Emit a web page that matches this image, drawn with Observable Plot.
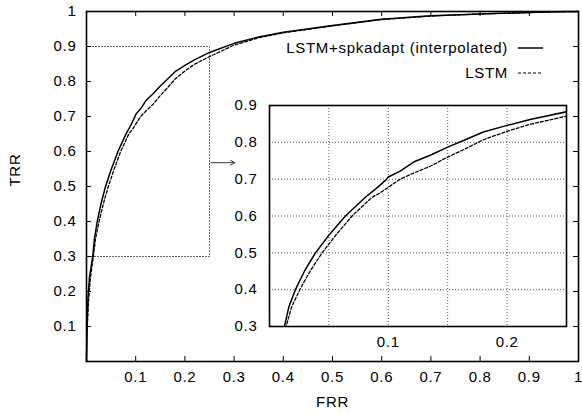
<!DOCTYPE html>
<html><head><meta charset="utf-8">
<script src="https://cdn.jsdelivr.net/npm/d3@7"></script>
<script src="https://cdn.jsdelivr.net/npm/@observablehq/plot@0.6"></script>
<style>
body{margin:0;background:#fff;}
#wrap{position:relative;width:582px;height:412px;overflow:hidden;}
#wrap svg{position:absolute;left:0;top:0;}
</style></head><body><div id="wrap"></div>
<script>
// ---- data ----
const seriesNames = ["LSTM+spkadapt (interpolated)", "LSTM"];
const solidFRR = [0, 0.001, 0.003, 0.006, 0.0126, 0.0162, 0.0218, 0.0297, 0.0387, 0.0498, 0.0639, 0.0807, 0.09, 0.098, 0.1, 0.110, 0.1213, 0.1353, 0.15, 0.1633, 0.18, 0.2, 0.2193, 0.25, 0.3, 0.35, 0.4, 0.5, 0.6, 0.7, 0.8, 0.9, 0.95, 1];
const solidTRR = [0, 0.10, 0.18, 0.24, 0.30, 0.352, 0.40, 0.452, 0.50, 0.547, 0.60, 0.651, 0.675, 0.698, 0.706, 0.722, 0.7465, 0.765, 0.787, 0.805, 0.828, 0.846, 0.862, 0.883, 0.909, 0.927, 0.941, 0.960, 0.978, 0.988, 0.993, 0.997, 0.999, 1];
const dashedFRR = [0, 0.001, 0.004, 0.008, 0.014, 0.0185, 0.0255, 0.0345, 0.0443, 0.0555, 0.0695, 0.0863, 0.0933, 0.1, 0.11, 0.1213, 0.1353, 0.15, 0.1633, 0.18, 0.2, 0.2193, 0.25, 0.3, 0.35, 0.4, 0.5, 0.6, 0.7, 0.8, 0.9, 0.95, 1];
const dashedTRR = [0, 0.08, 0.17, 0.24, 0.30, 0.352, 0.40, 0.452, 0.50, 0.547, 0.60, 0.651, 0.663, 0.678, 0.70, 0.7166, 0.735, 0.76, 0.78, 0.807, 0.83, 0.849, 0.871, 0.904, 0.925, 0.939, 0.959, 0.977, 0.987, 0.993, 0.997, 0.999, 1];

const mainXTicks = [0.1, 0.2, 0.3, 0.4, 0.5, 0.6, 0.7, 0.8, 0.9, 1];
const mainYTicks = [0.1, 0.2, 0.3, 0.4, 0.5, 0.6, 0.7, 0.8, 0.9, 1];
const insetXTicks = [0.1, 0.2];
const insetXGrid = [0.05, 0.1, 0.15, 0.2];
const insetYTicks = [0.3, 0.4, 0.5, 0.6, 0.7, 0.8, 0.9];
const insetYGrid = [0.4, 0.5, 0.6, 0.7, 0.8];
const zoomX = [0, 0.25];
const zoomY = [0.3, 0.9];
const arrowFrom = [0.253, 0.568];
const arrowTo = [0.301, 0.568];

// ---- build tables ----
const solid = solidFRR.map((x, i) => ({x, y: solidTRR[i]}));
const dashed = dashedFRR.map((x, i) => ({x, y: dashedTRR[i]}));
const zoomBox = [
  {x: zoomX[0], y: zoomY[1]}, {x: zoomX[1], y: zoomY[1]},
  {x: zoomX[1], y: zoomY[0]}, {x: zoomX[0], y: zoomY[0]}
];
const arrowData = [{x1: arrowFrom[0], y1: arrowFrom[1], x2: arrowTo[0], y2: arrowTo[1]}];

const FONT = '"Liberation Sans", Arial, Helvetica, sans-serif';
const textStyle = {fontFamily: FONT, fontSize: "15px", color: "#000", background: "transparent", overflow: "visible", letterSpacing: "0.7px"};

const W = 582, H = 412, mL = 86, mR = 4, mT = 11, mB = 51;
const iw = W - mL - mR, ih = H - mT - mB;
const TL = 5;

const main = Plot.plot({
  width: W, height: H, marginLeft: mL, marginRight: mR, marginTop: mT, marginBottom: mB,
  style: textStyle,
  x: {domain: [0, 1]}, y: {domain: [0, 1]},
  marks: [
    Plot.line(zoomBox, {x: "x", y: "y", stroke: "#555", strokeWidth: 1, strokeDasharray: "1,2"}),
    Plot.line(solid, {x: "x", y: "y", stroke: "#000", strokeWidth: 1.5}),
    Plot.line(dashed, {x: "x", y: "y", stroke: "#000", strokeWidth: 1.3, strokeDasharray: "3,2"}),
    Plot.arrow(arrowData, {x1: "x1", y1: "y1", x2: "x2", y2: "y2", stroke: "#333", strokeWidth: 1, headLength: 7}),
    Plot.tickX(mainXTicks, {x: d => d, insetTop: ih - TL, stroke: "#000"}),
    Plot.tickX(mainXTicks, {x: d => d, insetBottom: ih - TL, stroke: "#000"}),
    Plot.tickY(mainYTicks, {y: d => d, insetRight: iw - TL, stroke: "#000"}),
    Plot.tickY(mainYTicks, {y: d => d, insetLeft: iw - TL, stroke: "#000"}),
    Plot.axisX(mainXTicks, {anchor: "bottom", tickSize: 0, tickPadding: 9.5, label: null, tickFormat: d => String(+d.toFixed(1))}),
    Plot.axisY(mainYTicks, {anchor: "left", tickSize: 0, tickPadding: 10, label: null, tickFormat: d => String(+d.toFixed(1))}),
    Plot.text(["FRR"], {frameAnchor: "bottom", dy: 45, text: d => d, fill: "#000"}),
    Plot.text(["TRR"], {frameAnchor: "left", dx: -71, rotate: -90, text: d => d, fill: "#000"}),
    Plot.frame({stroke: "#000", strokeWidth: 1.6})
  ]
});
document.getElementById("wrap").appendChild(main);

// legend (drawn into main svg)
const lg = d3.select(main).append("g").attr("font-family", FONT).attr("font-size", 15).attr("letter-spacing", "0.7px");
const legY = [48, 73];
seriesNames.forEach((name, i) => {
  lg.append("text").attr("x", 508).attr("y", legY[i]).attr("dy", "0.35em").attr("text-anchor", "end").attr("fill", "#000").text(name);
  lg.append("line").attr("x1", 518).attr("x2", 543).attr("y1", legY[i]).attr("y2", legY[i])
    .attr("stroke", "#000").attr("stroke-width", i ? 1.2 : 1.5).attr("stroke-dasharray", i ? "3,2" : null);
});

// inset
const imL = 40, imR = 5, imT = 6, imB = 30;
const inset = Plot.plot({
  width: 297 + imL + imR, height: 221 + imT + imB,
  marginLeft: imL, marginRight: imR, marginTop: imT, marginBottom: imB,
  style: {...textStyle, background: "transparent"},
  x: {domain: zoomX}, y: {domain: zoomY},
  marks: [
    Plot.frame({fill: "#fff"}),
    Plot.gridX(insetXGrid, {stroke: "#555", strokeOpacity: 1, strokeWidth: 1, strokeDasharray: "1,2"}),
    Plot.gridY(insetYGrid, {stroke: "#555", strokeOpacity: 1, strokeWidth: 1, strokeDasharray: "1,2"}),
    Plot.line(solid, {x: "x", y: "y", stroke: "#000", strokeWidth: 1.5, clip: true}),
    Plot.line(dashed, {x: "x", y: "y", stroke: "#000", strokeWidth: 1.3, strokeDasharray: "3,2", clip: true}),
    Plot.axisX(insetXTicks, {anchor: "bottom", tickSize: 0, tickPadding: 10, label: null, tickFormat: d => String(+d.toFixed(2))}),
    Plot.axisY(insetYTicks, {anchor: "left", tickSize: 0, tickPadding: 12, label: null, tickFormat: d => String(+d.toFixed(1))}),
    Plot.frame({stroke: "#000", strokeWidth: 1.6})
  ]
});
inset.style.left = (269 - imL) + "px";
inset.style.top = (105 - imT) + "px";
document.getElementById("wrap").appendChild(inset);
</script>
</body></html>
